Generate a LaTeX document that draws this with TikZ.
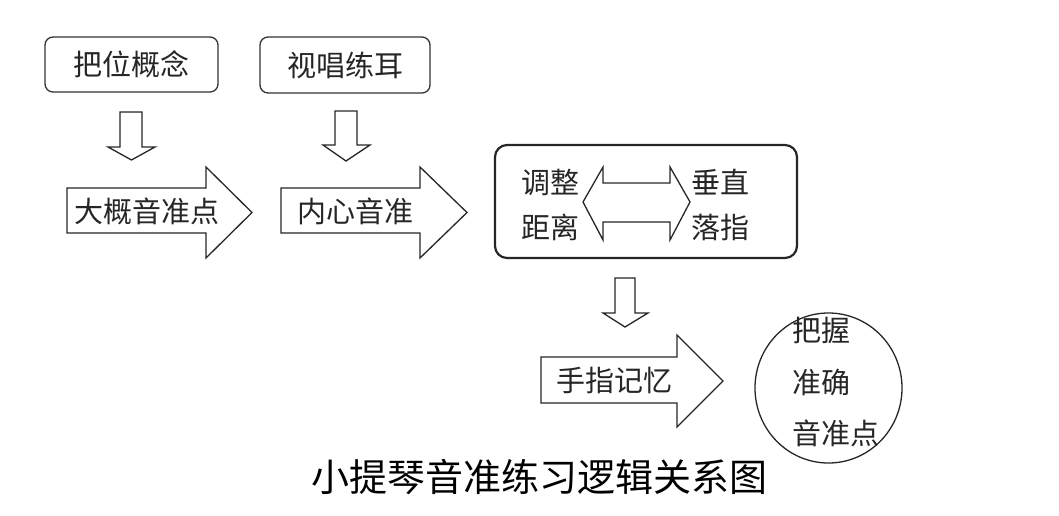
\documentclass[tikz,border=0pt]{standalone}
\usepackage{fontspec}
\setmainfont{Noto Sans CJK SC}
\usepackage{tikz}
\usetikzlibrary{shapes.geometric}

\tikzset{
  topbox/.style={draw=black!80,line width=1.3pt,rounded corners=8pt,minimum width=173pt,minimum height=55pt},
  blkarrow/.style={draw=black!85,line width=1.3pt,fill=white,line join=miter},
}

\begin{document}
\begin{tikzpicture}[x=1pt,y=-1pt,every node/.style={font=\fontsize{29}{33}\selectfont,text=black!85,inner sep=0pt}]
\useasboundingbox (0,0) rectangle (1059,515);
% top boxes
\node[topbox] (bwgn) at (131.5,64.5) {把位概念};
\node[topbox,minimum width=170pt,minimum height=56pt] (scle) at (345,65) {视唱练耳};
% down arrows
\draw[blkarrow] (120,112)--(142,112)--(142,147)--(155,147)--(131.5,160)--(108,147)--(120,147)--cycle;
\draw[blkarrow] (335,111)--(357,111)--(357,145)--(370,145)--(346,161)--(323,145)--(335,145)--cycle;
% right arrows
\draw[blkarrow] (67,188)--(206,188)--(206,167)--(252,212.5)--(206,258)--(206,233)--(67,233)--cycle;
\node (dgyzd) at (147,211) {大概音准点};
\draw[blkarrow] (281,188)--(420,188)--(420,167)--(467,212.5)--(420,258)--(420,233)--(281,233)--cycle;
\node (nxyz) at (355,211) {内心音准};
% middle box
\node[draw=black!85,line width=2.2pt,rounded corners=12pt,minimum width=302pt,minimum height=113pt] (tzbox) at (646,201.5) {};
\draw[blkarrow] (583,202)--(603,167)--(603,183)--(670,183)--(670,167)--(690,202)--(670,240)--(670,222)--(603,222)--(603,240)--cycle;
\node (tz) at (550,182) {调整};
\node (jl) at (550,227) {距离};
\node (cz) at (720,182) {垂直};
\node (lz) at (720,227) {落指};
% down to finger memory
\draw[blkarrow] (615,278)--(635,278)--(635,313)--(648,313)--(625,327)--(603,313)--(615,313)--cycle;
\draw[blkarrow] (541,357)--(677,357)--(677,335)--(723,381)--(677,427)--(677,403)--(541,403)--cycle;
\node (szjy) at (614,380) {手指记忆};
% goal
\node[ellipse,draw=black!85,line width=1.3pt,minimum width=147pt,minimum height=150pt] (goal) at (828.5,388) {};
\node[anchor=west] (bw) at (792,330) {把握};
\node[anchor=west] (zq) at (792,382) {准确};
\node[anchor=west] (yzd) at (792,433) {音准点};
% title
\node[font=\fontsize{38}{42}\selectfont,text=black] (title) at (539,477) {小提琴音准练习逻辑关系图};
\end{tikzpicture}
\end{document}
